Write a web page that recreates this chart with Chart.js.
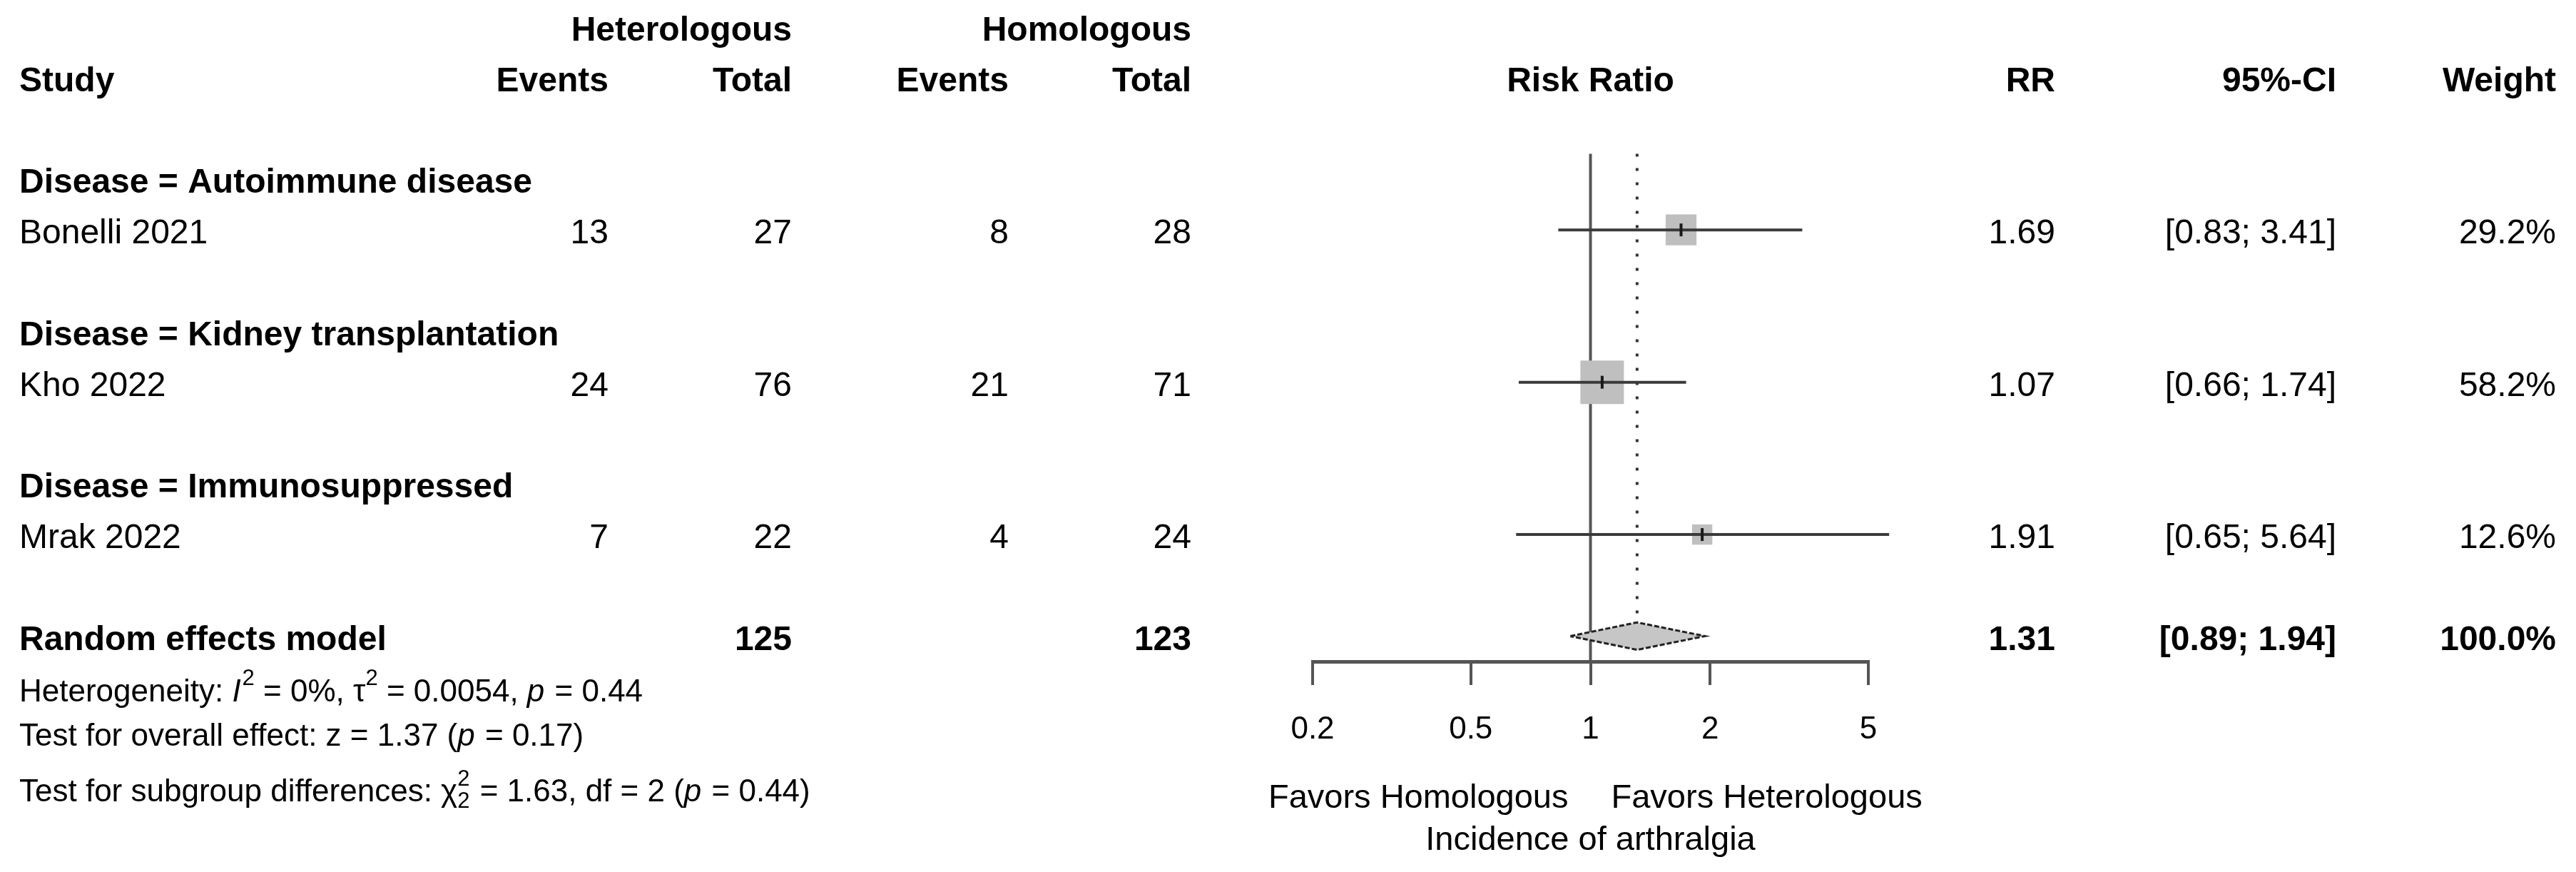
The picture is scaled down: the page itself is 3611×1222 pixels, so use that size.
<!DOCTYPE html>
<html>
<head>
<meta charset="utf-8">
<script src="https://cdn.jsdelivr.net/npm/chart.js@4.4.1/dist/chart.umd.min.js"></script>
<style>
html,body{margin:0;padding:0;background:#fff;}
canvas{display:block;}
</style>
</head>
<body>
<canvas id="c" width="3611" height="1222" style="width:3611px;height:1222px"></canvas>
<script>
// ---------------- data ----------------
const groups     = ['Autoimmune disease', 'Kidney transplantation', 'Immunosuppressed'];
const studies    = ['Bonelli 2021', 'Kho 2022', 'Mrak 2022'];
const hetEvents  = [13, 24, 7];
const hetTotal   = [27, 76, 22];
const homEvents  = [8, 21, 4];
const homTotal   = [28, 71, 24];
const rr         = [1.69, 1.07, 1.91];
const ciLow      = [0.83, 0.66, 0.65];
const ciHigh     = [3.41, 1.74, 5.64];
const weights    = [29.2, 58.2, 12.6];
const pooledRR   = 1.31;
const pooledLow  = 0.89;
const pooledHigh = 1.94;
const pooledHetTotal = 125;
const pooledHomTotal = 123;
const pooledWeight = 100.0;
const tickValues = [0.2, 0.5, 1, 2, 5];
const tickLabels = ['0.2', '0.5', '1', '2', '5'];

// ---------------- layout / style ----------------
const FONT = '"Liberation Sans", Arial, Helvetica, sans-serif';
const ROW_SIZE = 48, STAT_SIZE = 44, LAB_SIZE = 47;
const L = {
  header1: 0, header2: 1,
  groupRow: i => 3 + 3 * i,
  studyRow: i => 4 + 3 * i,
  pooledRow: 12,
  refTop: 2.5,
  diamondHalf: 0.27,
  statRows: [13.04, 13.91, 15.0],
  favorsRow: 15.12, axisTitleRow: 15.95,
  colStudy: 27, colHetEv: 853, colHetTot: 1110, colHomEv: 1414, colHomTot: 1670,
  colRR: 2881, colCI: 3275, colW: 3583,
  squareK: 8.0
};

const fmt2 = v => v.toFixed(2);
const ciText = (lo, hi) => '[' + fmt2(lo) + '; ' + fmt2(hi) + ']';

// ---------------- datasets ----------------
const datasets = [];
// reference line at RR = 1
datasets.push({
  data: [{x: 1, y: L.refTop}, {x: 1, y: 12.5}],
  showLine: true, borderColor: '#555', borderWidth: 4, pointRadius: 0, clip: false, order: 6
});
// pooled estimate dotted line
datasets.push({
  data: [{x: pooledRR, y: L.refTop}, {x: pooledRR, y: L.pooledRow - L.diamondHalf}],
  showLine: true, borderColor: '#333', borderWidth: 4, borderDash: [4, 16], pointRadius: 0, clip: false, order: 5
});
// squares
datasets.push({
  data: rr.map((v, i) => ({x: v, y: L.studyRow(i)})),
  showLine: false, pointStyle: 'rect',
  pointRadius: weights.map(w => L.squareK * Math.sqrt(w) / Math.SQRT2),
  pointBackgroundColor: '#bfbfbf', pointBorderWidth: 0, pointBorderColor: 'rgba(0,0,0,0)',
  clip: false, order: 4
});
// diamond
datasets.push({
  data: [
    {x: pooledLow, y: L.pooledRow},
    {x: pooledRR, y: L.pooledRow - L.diamondHalf},
    {x: pooledHigh, y: L.pooledRow},
    {x: pooledRR, y: L.pooledRow + L.diamondHalf},
    {x: pooledLow, y: L.pooledRow}
  ],
  showLine: true, fill: 'shape', backgroundColor: '#c6c6c6', borderColor: '#222', borderWidth: 3,
  borderDash: [7, 3], pointRadius: 0, tension: 0, clip: false, order: 3
});
// CI lines
rr.forEach((v, i) => {
  datasets.push({
    data: [{x: ciLow[i], y: L.studyRow(i)}, {x: ciHigh[i], y: L.studyRow(i)}],
    showLine: true, borderColor: '#3a3a3a', borderWidth: 4, pointRadius: 0, clip: false, order: 2
  });
});
// estimate marks
datasets.push({
  data: rr.map((v, i) => ({x: v, y: L.studyRow(i)})),
  showLine: false, pointStyle: 'line', pointRotation: 90, pointRadius: 9,
  pointBorderColor: '#1a1a1a', pointBorderWidth: 4, clip: false, order: 1
});

// ---------------- text plugin ----------------
const textPlugin = {
  id: 'forestText',
  afterDraw(chart) {
    const ctx = chart.ctx, ys = chart.scales.y, xs = chart.scales.x;
    const base = (row, size) => ys.getPixelForValue(row) + 0.358 * size + 2;
    function txt(s, x, row, align, bold, size) {
      size = size || ROW_SIZE;
      ctx.font = (bold ? 'bold ' : '') + size + 'px ' + FONT;
      ctx.textAlign = align; ctx.textBaseline = 'alphabetic'; ctx.fillStyle = '#000';
      ctx.fillText(s, x, base(row, size));
    }
    ctx.save();
    // headers
    txt('Heterologous', L.colHetTot, L.header1, 'right', true);
    txt('Homologous', L.colHomTot, L.header1, 'right', true);
    txt('Study', L.colStudy, L.header2, 'left', true);
    txt('Events', L.colHetEv, L.header2, 'right', true);
    txt('Total', L.colHetTot, L.header2, 'right', true);
    txt('Events', L.colHomEv, L.header2, 'right', true);
    txt('Total', L.colHomTot, L.header2, 'right', true);
    txt('Risk Ratio', xs.getPixelForValue(1), L.header2, 'center', true);
    txt('RR', L.colRR, L.header2, 'right', true);
    txt('95%-CI', L.colCI, L.header2, 'right', true);
    txt('Weight', L.colW, L.header2, 'right', true);
    // groups & studies
    groups.forEach((g, i) => txt('Disease = ' + g, L.colStudy, L.groupRow(i), 'left', true));
    studies.forEach((s, i) => {
      const r = L.studyRow(i);
      txt(s, L.colStudy, r, 'left');
      txt(String(hetEvents[i]), L.colHetEv, r, 'right');
      txt(String(hetTotal[i]), L.colHetTot, r, 'right');
      txt(String(homEvents[i]), L.colHomEv, r, 'right');
      txt(String(homTotal[i]), L.colHomTot, r, 'right');
      txt(fmt2(rr[i]), L.colRR, r, 'right');
      txt(ciText(ciLow[i], ciHigh[i]), L.colCI, r, 'right');
      txt(weights[i].toFixed(1) + '%', L.colW, r, 'right');
    });
    // pooled
    const pr = L.pooledRow;
    txt('Random effects model', L.colStudy, pr, 'left', true);
    txt(String(pooledHetTotal), L.colHetTot, pr, 'right', true);
    txt(String(pooledHomTotal), L.colHomTot, pr, 'right', true);
    txt(fmt2(pooledRR), L.colRR, pr, 'right', true);
    txt(ciText(pooledLow, pooledHigh), L.colCI, pr, 'right', true);
    txt(pooledWeight.toFixed(1) + '%', L.colW, pr, 'right', true);

    // stats lines with rich segments
    function rich(segs, x, row, size) {
      const y = base(row, size);
      ctx.textAlign = 'left'; ctx.textBaseline = 'alphabetic'; ctx.fillStyle = '#000';
      segs.forEach(sg => {
        if (sg.stack) {
          const ss = Math.round(size * 0.7);
          ctx.font = ss + 'px ' + FONT;
          const w1 = ctx.measureText(sg.stack[0]).width, w2 = ctx.measureText(sg.stack[1]).width;
          ctx.fillText(sg.stack[0], x, y - size * 0.5);
          ctx.fillText(sg.stack[1], x, y + size * 0.22);
          x += Math.max(w1, w2) + 2;
          return;
        }
        let fs = size, dy = 0;
        if (sg.sup) { fs = Math.round(size * 0.7); dy = -size * 0.52; }
        ctx.font = (sg.it ? 'italic ' : '') + fs + 'px ' + FONT;
        ctx.fillText(sg.t, x, y + dy);
        x += ctx.measureText(sg.t).width + (sg.it ? 2 : 0);
      });
    }
    rich([{t: 'Heterogeneity: '}, {t: 'I', it: true}, {t: '2', sup: true}, {t: ' = 0%, '},
          {t: 'τ'}, {t: '2', sup: true}, {t: ' = 0.0054, '}, {t: 'p', it: true}, {t: ' = 0.44'}],
         L.colStudy, L.statRows[0], STAT_SIZE);
    rich([{t: 'Test for overall effect: z = 1.37 ('}, {t: 'p', it: true}, {t: ' = 0.17)'}],
         L.colStudy, L.statRows[1], STAT_SIZE);
    rich([{t: 'Test for subgroup differences: '}, {t: 'χ'}, {stack: ['2', '2']},
          {t: ' = 1.63, df = 2 ('}, {t: 'p', it: true}, {t: ' = 0.44)'}],
         L.colStudy, L.statRows[2], STAT_SIZE);

    // favours labels + axis title
    const x1 = xs.getPixelForValue(1);
    txt('Favors Homologous', x1 - 31, L.favorsRow, 'right', false, LAB_SIZE);
    txt('Favors Heterologous', x1 + 29, L.favorsRow, 'left', false, LAB_SIZE);
    txt('Incidence of arthralgia', x1, L.axisTitleRow, 'center', false, LAB_SIZE);
    ctx.restore();
  }
};

// ---------------- chart ----------------
new Chart(document.getElementById('c'), {
  type: 'scatter',
  data: { datasets },
  options: {
    responsive: false, animation: false, devicePixelRatio: 1,
    layout: { autoPadding: false, padding: { left: 1840, right: 992, top: 2, bottom: 0 } },
    plugins: { legend: { display: false }, tooltip: { enabled: false } },
    scales: {
      x: {
        type: 'logarithmic', min: 0.2, max: 5, position: 'bottom',
        afterBuildTicks: s => { s.ticks = tickValues.map(v => ({ value: v })); },
        afterFit: s => { s.height = 295; },
        ticks: { callback: (v, i) => tickLabels[i], font: { family: FONT, size: 44 }, color: '#000',
                 padding: 36, maxRotation: 0, minRotation: 0, autoSkip: false },
        grid: { drawOnChartArea: false, drawTicks: true, tickLength: 33, lineWidth: 4, color: '#555' },
        border: { display: true, width: 5, color: '#555' }
      },
      y: { type: 'linear', min: -0.5, max: 12.5, reverse: true, display: false }
    }
  },
  plugins: [textPlugin]
});
</script>
</body>
</html>
